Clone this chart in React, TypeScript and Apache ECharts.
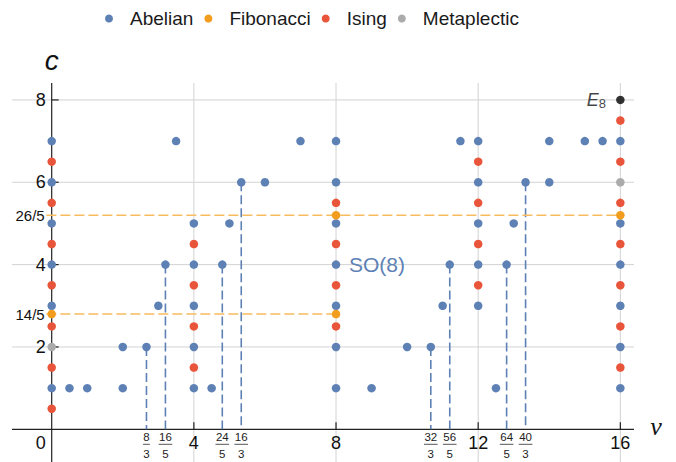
import React, { useEffect, useRef } from "react";
import * as echarts from "echarts";

// ---------- data ----------
const abelian: [number, number][] = [
  [0, 1], [0, 3], [0, 4], [0, 5], [0, 6], [0, 7],
  [0.5, 1], [1, 1], [2, 1], [2, 2], [8 / 3, 2], [3, 3], [16 / 5, 4], [3.5, 7],
  [4, 1], [4, 2], [4, 3], [4, 4], [4, 5],
  [4.5, 1], [24 / 5, 4], [5, 5], [16 / 3, 6], [6, 6], [7, 7],
  [8, 1], [8, 2], [8, 3], [8, 4], [8, 5], [8, 6], [8, 7],
  [9, 1], [10, 2], [32 / 3, 2], [11, 3], [56 / 5, 4], [11.5, 7],
  [12, 3], [12, 4], [12, 5], [12, 6], [12, 7],
  [12.5, 1], [64 / 5, 4], [13, 5], [40 / 3, 6], [14, 6], [14, 7], [15, 7], [15.5, 7],
  [16, 1], [16, 2], [16, 3], [16, 4], [16, 5], [16, 7],
];
const fibonacci: [number, number][] = [[0, 14 / 5], [8, 14 / 5], [8, 26 / 5], [16, 26 / 5]];
const ising: [number, number][] = [
  [0, 0.5], [0, 1.5], [0, 2.5], [0, 3.5], [0, 4.5], [0, 5.5], [0, 6.5],
  [4, 1.5], [4, 2.5], [4, 3.5], [4, 4.5],
  [8, 2.5], [8, 3.5], [8, 4.5], [8, 5.5],
  [12, 3.5], [12, 4.5], [12, 5.5], [12, 6.5],
  [16, 1.5], [16, 2.5], [16, 3.5], [16, 4.5], [16, 5.5], [16, 6.5], [16, 7.5],
];
const metaplectic: [number, number][] = [[0, 2], [16, 6]];
const e8: [number, number][] = [[16, 8]];

// dashed drop lines (point -> axis)
const dropLines: [number, number][] = [
  [8 / 3, 2], [16 / 5, 4], [24 / 5, 4], [16 / 3, 6],
  [32 / 3, 2], [56 / 5, 4], [64 / 5, 4], [40 / 3, 6],
];
// horizontal orange dashed lines: [y, xFrom, xTo]
const hLines: [number, number, number][] = [[14 / 5, -0.15, 8], [26 / 5, -0.15, 16]];

const gridX = [4, 8, 12, 16];
const gridY = [2, 4, 6, 8];
const xTickMajor = [4, 8, 12, 16];
const yTickMajor = [2, 4, 6, 8];
const xLabelVals = [0, 4, 8, 12, 16];
const xLabelText = ["0", "4", "8", "12", "16"];
const yLabelVals = [2, 4, 6, 8];
const yLabelText = ["2", "4", "6", "8"];
const yFracVals = [14 / 5, 26 / 5];
const yFracText = ["14/5", "26/5"];
const xFracNum = [8, 16, 24, 16, 32, 56, 64, 40];
const xFracDen = [3, 5, 5, 3, 3, 5, 5, 3];

const XMIN = -1.117, XMAX = 16.384, YMIN = -0.794, YMAX = 8.411;

const BLUE = "#5E81B5";
const ORANGE = "#F39D1F";
const RED = "#E9553A";
const GRAY = "#ABABAB";
const ORANGE_LINE = "#F7BC5E";
const GRID = "#D3D3D3";
const AXIS = "#222222";
const FONT = '"Liberation Sans", Arial, sans-serif';

export default function App() {
  const ref = useRef<HTMLDivElement>(null);
  useEffect(() => {
    const chart = echarts.init(ref.current!, undefined, { renderer: "svg" });

    const scatter = (name: string, data: [number, number][], color: string) => ({
      name,
      type: "scatter",
      data,
      symbolSize: 8.5,
      itemStyle: { color, opacity: 1 },
      z: 5,
      silent: true,
    });

    const option: any = {
      animation: false,
      grid: { left: 12, right: 42, top: 83, bottom: 0 },
      xAxis: { type: "value", min: XMIN, max: XMAX, show: false },
      yAxis: { type: "value", min: YMIN, max: YMAX, show: false },
      legend: {
        data: ["Abelian", "Fibonacci", "Ising", "Metaplectic"],
        left: 100,
        top: 4,
        icon: "circle",
        itemWidth: 32,
        itemHeight: 8,
        itemGap: 11,
        textStyle: { fontSize: 19, fontFamily: FONT, color: "#1a1a1a" },
      },
      series: [
        // vertical grid lines
        {
          type: "custom",
          z: 1,
          silent: true,
          data: gridX.map((v) => [v, 0]),
          renderItem: (p: any, api: any) => {
            const a = api.coord([api.value(0), YMIN]);
            const b = api.coord([api.value(0), YMAX]);
            return { type: "line", shape: { x1: a[0], y1: a[1], x2: b[0], y2: b[1] }, style: { stroke: GRID, lineWidth: 1 } };
          },
        },
        // horizontal grid lines
        {
          type: "custom",
          z: 1,
          silent: true,
          data: gridY.map((v) => [0, v]),
          renderItem: (p: any, api: any) => {
            const a = api.coord([XMIN, api.value(1)]);
            const b = api.coord([XMAX, api.value(1)]);
            return { type: "line", shape: { x1: a[0], y1: a[1], x2: b[0], y2: b[1] }, style: { stroke: GRID, lineWidth: 1 } };
          },
        },
        // axes lines + ticks
        {
          type: "custom",
          z: 2,
          silent: true,
          data: [[0, 0]],
          renderItem: (p: any, api: any) => {
            const children: any[] = [];
            const xa = api.coord([XMIN, 0]);
            const xb = api.coord([XMAX, 0]);
            const ya = api.coord([0, YMIN]);
            const yb = api.coord([0, YMAX]);
            children.push({ type: "line", shape: { x1: xa[0], y1: xa[1], x2: xb[0], y2: xb[1] }, style: { stroke: AXIS, lineWidth: 1.2 } });
            children.push({ type: "line", shape: { x1: ya[0], y1: ya[1], x2: yb[0], y2: yb[1] }, style: { stroke: AXIS, lineWidth: 1.2 } });
            xTickMajor.forEach((v) => {
              const c = api.coord([v, 0]);
              children.push({ type: "line", shape: { x1: c[0], y1: c[1], x2: c[0], y2: c[1] - 7 }, style: { stroke: AXIS, lineWidth: 1.2 } });
            });
            yTickMajor.forEach((v) => {
              const c = api.coord([0, v]);
              children.push({ type: "line", shape: { x1: c[0], y1: c[1], x2: c[0] + 7, y2: c[1] }, style: { stroke: AXIS, lineWidth: 1.2 } });
            });
            return { type: "group", children };
          },
        },
        // dashed drop lines
        {
          type: "custom",
          z: 3,
          silent: true,
          data: dropLines,
          renderItem: (p: any, api: any) => {
            const a = api.coord([api.value(0), api.value(1)]);
            const b = api.coord([api.value(0), 0]);
            return { type: "line", shape: { x1: a[0], y1: a[1], x2: b[0], y2: b[1] }, style: { stroke: BLUE, lineWidth: 1.6, lineDash: [9, 4] } };
          },
        },
        // horizontal orange dashed lines
        {
          type: "custom",
          z: 3,
          silent: true,
          data: hLines.map((h) => [h[1], h[0], h[2]]),
          renderItem: (p: any, api: any) => {
            const a = api.coord([api.value(0), api.value(1)]);
            const b = api.coord([api.value(2), api.value(1)]);
            return { type: "line", shape: { x1: a[0], y1: a[1], x2: b[0], y2: b[1] }, style: { stroke: ORANGE_LINE, lineWidth: 1.6, lineDash: [10, 4] } };
          },
        },
        scatter("Abelian", abelian, BLUE),
        scatter("Fibonacci", fibonacci, ORANGE),
        scatter("Ising", ising, RED),
        scatter("Metaplectic", metaplectic, GRAY),
        {
          name: "E8",
          type: "scatter",
          data: e8,
          symbolSize: 8.5,
          itemStyle: { color: "#000" },
          z: 5,
          silent: true,
          label: {
            show: true,
            position: "left",
            distance: 10,
            formatter: "{e|E}{s|8}",
            rich: {
              e: { fontSize: 18, fontStyle: "italic", fontFamily: FONT, color: "#111", lineHeight: 20 },
              s: { fontSize: 13, fontFamily: FONT, color: "#111", lineHeight: 20, padding: [7, 0, 0, 0] },
            },
          },
        },
        // x tick labels (integers)
        {
          type: "custom",
          z: 6,
          silent: true,
          data: xLabelVals.map((v) => [v, 0]),
          renderItem: (p: any, api: any) => {
            const v = api.value(0);
            const c = api.coord([v, 0]);
            const isZero = v === 0;
            return {
              type: "text",
              x: isZero ? c[0] - 6 : c[0],
              y: c[1] + 14,
              style: { text: xLabelText[p.dataIndex], font: `18px ${FONT}`, fill: "#111", align: isZero ? "right" : "center", verticalAlign: "middle" },
            };
          },
        },
        // x tick labels (fractions)
        {
          type: "custom",
          z: 6,
          silent: true,
          data: xFracNum.map((n, i) => [n / xFracDen[i], 0]),
          renderItem: (p: any, api: any) => {
            const i = p.dataIndex;
            const c = api.coord([api.value(0), 0]);
            const num = String(xFracNum[i]);
            const den = String(xFracDen[i]);
            const hw = 3.4 * Math.max(num.length, den.length);
            return {
              type: "group",
              children: [
                { type: "text", x: c[0], y: c[1] + 8, style: { text: num, font: `11.5px ${FONT}`, fill: "#222", align: "center", verticalAlign: "middle" } },
                { type: "line", shape: { x1: c[0] - hw, y1: c[1] + 15, x2: c[0] + hw, y2: c[1] + 15 }, style: { stroke: "#555", lineWidth: 1 } },
                { type: "text", x: c[0], y: c[1] + 25, style: { text: den, font: `11.5px ${FONT}`, fill: "#222", align: "center", verticalAlign: "middle" } },
              ],
            };
          },
        },
        // y tick labels (integers)
        {
          type: "custom",
          z: 6,
          silent: true,
          data: yLabelVals.map((v) => [0, v]),
          renderItem: (p: any, api: any) => {
            const c = api.coord([0, api.value(1)]);
            return { type: "text", x: c[0] - 6, y: c[1], style: { text: yLabelText[p.dataIndex], font: `18px ${FONT}`, fill: "#111", align: "right", verticalAlign: "middle" } };
          },
        },
        // y tick labels (fractions)
        {
          type: "custom",
          z: 6,
          silent: true,
          data: yFracVals.map((v) => [0, v]),
          renderItem: (p: any, api: any) => {
            const c = api.coord([0, api.value(1)]);
            return { type: "text", x: c[0] - 7, y: c[1], style: { text: yFracText[p.dataIndex], font: `15px ${FONT}`, fill: "#111", align: "right", verticalAlign: "middle" } };
          },
        },
        // axis names and SO(8) annotation
        {
          type: "custom",
          z: 6,
          silent: true,
          data: [[0, 0]],
          renderItem: (p: any, api: any) => {
            const top = api.coord([0, YMAX]);
            const right = api.coord([XMAX, 0]);
            const so = api.coord([8, 4]);
            return {
              type: "group",
              children: [
                { type: "text", x: top[0], y: top[1] - 23, style: { text: "c", font: `italic 28px ${FONT}`, fill: "#111", align: "center", verticalAlign: "middle" } },
                { type: "text", x: right[0] + 22, y: right[1] - 3, style: { text: "ν", font: `italic 26px "Liberation Serif", "DejaVu Serif", serif`, fill: "#111", align: "center", verticalAlign: "middle" } },
                { type: "text", x: so[0] + 13, y: so[1], style: { text: "SO(8)", font: `21px ${FONT}`, fill: BLUE, align: "left", verticalAlign: "middle" } },
              ],
            };
          },
        },
      ],
    };
    chart.setOption(option);
    return () => chart.dispose();
  }, []);
  return <div ref={ref} style={{ position: "absolute", left: 0, top: 0, width: 676, height: 462 }} />;
}
